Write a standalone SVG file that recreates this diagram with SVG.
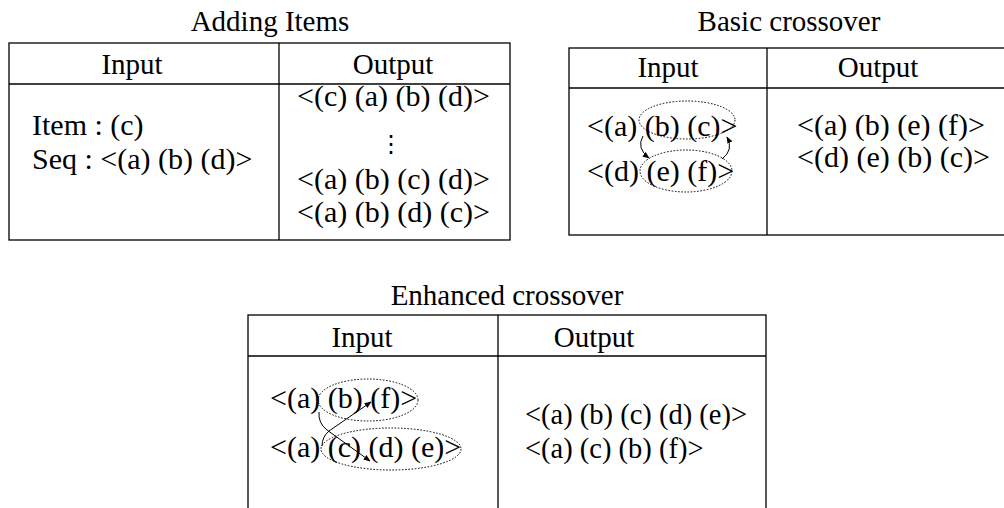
<svg xmlns="http://www.w3.org/2000/svg" width="1004" height="508" viewBox="0 0 1004 508">
  <style>
    .frame { fill: none; stroke: #000; stroke-width: 1.3; }
    .rule { stroke: #000; stroke-width: 1.3; }
    .title { font-family: "Liberation Serif", "Times New Roman", serif; font-size: 29px; fill: #000; text-anchor: middle; }
    .head { font-family: "Liberation Serif", "Times New Roman", serif; font-size: 29px; fill: #000; text-anchor: middle; }
    .cell { font-family: "Liberation Serif", "Times New Roman", serif; font-size: 30px; fill: #000; }
    .small { font-size: 28.5px; }
    .dots { font-family: "DejaVu Serif", "Liberation Serif", serif; font-size: 24px; fill: #000; text-anchor: middle; }
    .group { fill: none; stroke: #000; stroke-width: 1; stroke-dasharray: 1.6 1.6; }
    .move { fill: none; stroke: #000; stroke-width: 1; marker-end: url(#head); }
  </style>
  <defs>
    <marker id="head" viewBox="0 0 10 10" refX="9" refY="5" markerWidth="7" markerHeight="7" markerUnits="userSpaceOnUse" orient="auto">
      <path d="M0,1 L10,5 L0,9 Z" fill="#000"/>
    </marker>
  </defs>
  <rect width="1004" height="508" fill="#fff"/>

  <!-- Adding Items -->
  <g id="adding-items">
    <text class="title" x="270" y="31">Adding Items</text>
    <rect class="frame" x="9" y="43" width="501" height="197"/>
    <line class="rule" x1="9" y1="84" x2="510" y2="84"/>
    <line class="rule" x1="279" y1="43" x2="279" y2="240"/>
    <text class="head" x="132" y="74">Input</text>
    <text class="head" x="393" y="74">Output</text>
    <text class="cell" x="32" y="135">Item : (c)</text>
    <text class="cell" x="32" y="169">Seq : &lt;(a) (b) (d)&gt;</text>
    <text class="cell" x="297" y="106">&lt;(c) (a) (b) (d)&gt;</text>
    <text class="dots" x="391" y="152">⋮</text>
    <text class="cell" x="297" y="189">&lt;(a) (b) (c) (d)&gt;</text>
    <text class="cell" x="297" y="222">&lt;(a) (b) (d) (c)&gt;</text>
  </g>

  <!-- Basic crossover -->
  <g id="basic-crossover">
    <text class="title" x="789" y="31">Basic crossover</text>
    <rect class="frame" x="569" y="48" width="450" height="187"/>
    <line class="rule" x1="569" y1="88" x2="1004" y2="88"/>
    <line class="rule" x1="767" y1="48" x2="767" y2="235"/>
    <text class="head" x="668" y="77">Input</text>
    <text class="head" x="878" y="77">Output</text>
    <text class="cell" x="587" y="136">&lt;(a) (b) (c)&gt;</text>
    <text class="cell" x="587" y="181">&lt;(d) (e) (f)&gt;</text>
    <ellipse class="group" cx="687" cy="120" rx="48" ry="19"/>
    <ellipse class="group" cx="686" cy="171" rx="46" ry="21"/>
    <text class="cell" x="797" y="135">&lt;(a) (b) (e) (f)&gt;</text>
    <text class="cell" x="797" y="167">&lt;(d) (e) (b) (c)&gt;</text>
  </g>

  <!-- Enhanced crossover -->
  <g id="enhanced-crossover">
    <text class="title" x="507" y="305">Enhanced crossover</text>
    <rect class="frame" x="248" y="315" width="518" height="200"/>
    <line class="rule" x1="248" y1="356" x2="766" y2="356"/>
    <line class="rule" x1="498" y1="315" x2="498" y2="508"/>
    <text class="head" x="362" y="347">Input</text>
    <text class="head" x="594" y="347">Output</text>
    <text class="cell" x="270" y="408">&lt;(a) (b) (f)&gt;</text>
    <text class="cell" x="270" y="457">&lt;(a) (c) (d) (e)&gt;</text>
    <ellipse class="group" cx="368" cy="400" rx="50" ry="21"/>
    <ellipse class="group" cx="391" cy="449" rx="70" ry="21"/>
    <text class="cell small" x="525" y="424">&lt;(a) (b) (c) (d) (e)&gt;</text>
    <text class="cell small" x="525" y="458">&lt;(a) (c) (b) (f)&gt;</text>
  </g>

  <!-- swap arrows -->
  <g id="connectors">
    <path class="move" d="M643,136 Q636,148 649,158"/>
    <path class="move" d="M722,159 Q734,150 727,137"/>
    <path class="move" d="M319,412 Q318,423 327,430 L370,461"/>
    <path class="move" d="M322,446 Q322,437 329,431 L371,402"/>
  </g>
</svg>
